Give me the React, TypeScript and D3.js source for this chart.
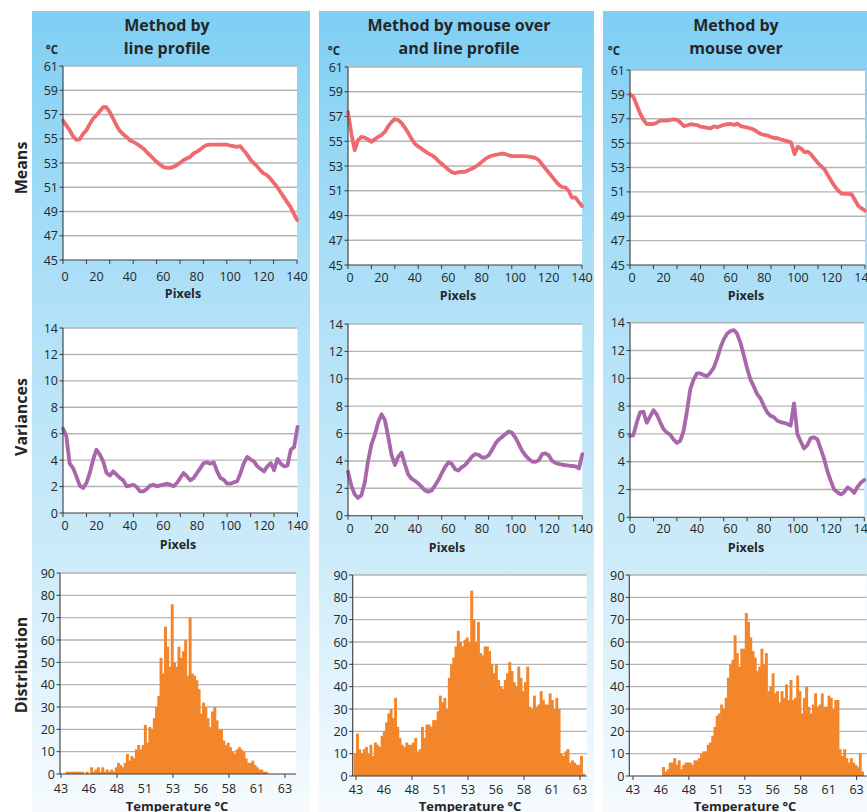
import React from "react";
import * as d3 from "d3";

// ---------- categories ----------
const pixelPositions = d3.range(0, 141, 2);
const tempBinStarts = d3.range(0, 105).map((i) => +(42.8 + i * 0.2).toFixed(1));
const BIN_WIDTH = 0.2;

// ---------- labels ----------
const methodTitles = [
  ["Method by", "line profile"],
  ["Method by mouse over", "and line profile"],
  ["Method by", "mouse over"],
];
const rowLabels = ["Means", "Variances", "Distribution"];
const meanTicks = [45, 47, 49, 51, 53, 55, 57, 59, 61];
const varianceTicks = [0, 2, 4, 6, 8, 10, 12, 14];
const distributionTicks = [0, 10, 20, 30, 40, 50, 60, 70, 80, 90];
const pixelTickLabels = [0, 20, 40, 60, 80, 100, 120, 140];
const pixelTickMarks = [0, 14, 28, 42, 56, 70, 84, 98, 112, 126, 140];
const tempTickLabels = [43, 45.5, 48, 50.5, 53, 55.5, 58, 60.5, 63];
const tempTickMarks = [43, 48, 53, 58, 63];

// ---------- series: means (°C) at pixels 0,2,...,140 ----------
const meansLineProfile = [
  56.5, 56.1, 55.7, 55.2, 54.9, 54.95, 55.4, 55.7, 56.2, 56.66,
  56.94, 57.27, 57.6, 57.6, 57.2, 56.66, 56.1, 55.65, 55.37, 55.15,
  54.88, 54.74, 54.6, 54.4, 54.2, 53.92, 53.65, 53.37, 53.1, 52.88,
  52.68, 52.6, 52.6, 52.68, 52.82, 53.01, 53.23, 53.37, 53.5, 53.78,
  53.92, 54.1, 54.33, 54.47, 54.52, 54.52, 54.52, 54.52, 54.52, 54.52,
  54.44, 54.39, 54.33, 54.39, 54.06, 53.73, 53.3, 53.0, 52.74, 52.41,
  52.14, 52.0, 51.72, 51.37, 51.04, 50.63, 50.2, 49.8, 49.4, 48.84,
  48.3,
];
const meansMouseAndLine = [
  57.37, 55.62, 54.28, 55.08, 55.35, 55.3, 55.15, 54.95, 55.15, 55.35,
  55.5, 55.75, 56.2, 56.55, 56.8, 56.72, 56.48, 56.1, 55.68, 55.2,
  54.8, 54.58, 54.4, 54.2, 54.02, 53.88, 53.7, 53.4, 53.18, 52.95,
  52.72, 52.52, 52.42, 52.5, 52.53, 52.53, 52.65, 52.78, 52.92, 53.1,
  53.33, 53.55, 53.73, 53.83, 53.9, 53.95, 54.0, 53.97, 53.87, 53.8,
  53.8, 53.8, 53.8, 53.8, 53.76, 53.72, 53.65, 53.5, 53.15, 52.82,
  52.48, 52.15, 51.82, 51.5, 51.3, 51.27, 51.0, 50.45, 50.46, 50.1,
  49.76,
];
const meansMouseOver = [
  59.0, 58.81, 58.13, 57.44, 56.9, 56.57, 56.57, 56.57, 56.68, 56.84,
  56.84, 56.84, 56.9, 56.95, 56.9, 56.7, 56.4, 56.45, 56.55, 56.52,
  56.48, 56.35, 56.32, 56.25, 56.21, 56.38, 56.3, 56.4, 56.5, 56.55,
  56.57, 56.5, 56.6, 56.4, 56.33, 56.28, 56.2, 56.1, 55.9, 55.75,
  55.67, 55.62, 55.5, 55.42, 55.4, 55.3, 55.22, 55.15, 55.05, 54.1,
  54.7, 54.55, 54.25, 54.3, 54.05, 53.7, 53.37, 53.1, 52.82, 52.35,
  51.88, 51.45, 51.12, 50.85, 50.83, 50.83, 50.8, 50.33, 49.84, 49.65,
  49.46,
];

// ---------- series: variances at pixels 0,2,...,140 ----------
const varLineProfile = [
  6.4, 5.8, 3.73, 3.4, 2.77, 2.07, 1.89, 2.27, 3.03, 4.04,
  4.79, 4.41, 3.91, 3.03, 2.83, 3.15, 2.9, 2.65, 2.47, 2.02,
  2.07, 2.14, 1.97, 1.64, 1.64, 1.82, 2.07, 2.14, 2.02, 2.09,
  2.14, 2.22, 2.14, 2.02, 2.27, 2.65, 3.03, 2.77, 2.47, 2.65,
  3.03, 3.4, 3.78, 3.83, 3.73, 3.83, 3.15, 2.65, 2.52, 2.22,
  2.22, 2.32, 2.4, 3.03, 3.78, 4.24, 4.04, 3.91, 3.53, 3.33,
  3.15, 3.53, 3.78, 3.23, 4.09, 3.73, 3.53, 3.58, 4.79, 5.0,
  6.51,
];
const varMouseAndLine = [
  3.21, 2.2, 1.55, 1.3, 1.5, 2.4, 4.0, 5.2, 5.9, 6.8,
  7.4, 7.0, 5.8, 4.45, 3.7, 4.3, 4.6, 3.75, 3.0, 2.7,
  2.55, 2.35, 2.1, 1.85, 1.75, 1.85, 2.2, 2.6, 3.1, 3.55,
  3.9, 3.8, 3.4, 3.3, 3.55, 3.7, 4.0, 4.3, 4.5, 4.45,
  4.25, 4.25, 4.4, 4.8, 5.25, 5.55, 5.75, 5.95, 6.15, 6.05,
  5.7, 5.25, 4.75, 4.4, 4.15, 3.95, 3.94, 4.05, 4.5, 4.55,
  4.4, 4.0, 3.85, 3.78, 3.72, 3.7, 3.65, 3.63, 3.6, 3.45,
  4.5,
];
const varMouseOver = [
  5.85, 5.9, 6.8, 7.55, 7.6, 6.8, 7.24, 7.7, 7.4, 6.85,
  6.35, 6.1, 5.95, 5.6, 5.35, 5.5, 6.2, 7.6, 9.2, 9.9,
  10.35, 10.35, 10.24, 10.15, 10.4, 10.75, 11.4, 12.2, 12.8, 13.2,
  13.4, 13.47, 13.2, 12.55, 11.65, 10.7, 9.9, 9.4, 8.85, 8.55,
  8.0, 7.55, 7.3, 7.2, 6.95, 6.85, 6.8, 6.72, 6.6, 8.2,
  6.0, 5.45, 4.95, 5.2, 5.7, 5.75, 5.6, 4.9, 4.2, 3.3,
  2.6, 2.0, 1.8, 1.65, 1.8, 2.15, 2.0, 1.75, 2.2, 2.5,
  2.69,
];

// ---------- series: distribution counts per 0.2 °C bin from 42.8 ----------
const distLineProfile = [
  0, 0, 0, 1, 1, 1, 1, 1, 1, 1,
  1, 0, 1, 0, 3, 1, 2, 3, 1, 3,
  1, 2, 1, 2, 1, 3, 5, 4, 3, 5,
  9, 6, 8, 7, 11, 13, 11, 13, 22, 14,
  21, 20, 25, 30, 35, 52, 45, 66, 57, 48,
  76, 50, 48, 57, 52, 55, 60, 44, 70, 45,
  44, 42, 38, 27, 32, 30, 25, 21, 28, 30,
  24, 20, 20, 15, 13, 14, 12, 10, 9, 11,
  12, 11, 10, 7, 5, 5, 6, 4, 3, 2,
  2, 1, 1, 0, 0, 0, 0, 0, 0, 0,
  0, 0, 0, 0, 0,
];
const distMouseAndLine = [
  10, 19, 12, 10, 12, 13, 10, 14, 9, 15,
  14, 13, 18, 20, 24, 28, 30, 26, 35, 22,
  17, 14, 13, 15, 14, 14, 15, 17, 11, 12,
  22, 17, 23, 23, 22, 25, 25, 29, 36, 33,
  35, 30, 44, 50, 53, 58, 65, 60, 58, 61,
  62, 60, 83, 70, 60, 69, 55, 54, 58, 58,
  56, 50, 46, 50, 43, 40, 39, 43, 46, 51,
  47, 42, 40, 49, 44, 38, 42, 49, 31, 30,
  36, 31, 32, 38, 34, 32, 32, 37, 34, 30,
  35, 30, 10, 9, 11, 12, 6, 7, 6, 5,
  5, 9, 1, 0, 0,
];
const distMouseOver = [
  0, 0, 0, 0, 0, 0, 0, 0, 0, 0,
  0, 0, 0, 0, 4, 2, 3, 6, 6, 8,
  5, 7, 3, 5, 6, 6, 6, 5, 7, 7,
  8, 10, 11, 11, 14, 15, 18, 22, 27, 28,
  32, 30, 35, 44, 50, 52, 63, 55, 49, 57,
  57, 73, 69, 62, 56, 53, 47, 49, 57, 50,
  55, 38, 40, 46, 37, 38, 33, 38, 35, 41,
  34, 43, 34, 35, 45, 38, 28, 35, 40, 31,
  28, 32, 37, 31, 32, 37, 31, 31, 36, 35,
  30, 34, 34, 12, 9, 12, 8, 6, 8, 6,
  5, 4, 10, 2, 0,
];

const meansSeries = [meansLineProfile, meansMouseAndLine, meansMouseOver];
const varSeries = [varLineProfile, varMouseAndLine, varMouseOver];
const distSeries = [distLineProfile, distMouseAndLine, distMouseOver];

// ---------- layout ----------
type Box = { l: number; t: number; r: number; b: number };
const FONT = "'Open Sans', 'Noto Sans', sans-serif";
const TEXT = "#262626";
const GRID = "#b4b4b4";
const AXIS = "#3a3a3a";
const MEAN_COLOR = "#ef6a6e";
const VAR_COLOR = "#a866ab";
const BAR_COLOR = "#f3862a";

const columns = [
  {
    px: 32, pw: 278, titleX: 167, titleY: [31, 54], deg: [52, 54],
    means: { l: 63, t: 66, r: 297, b: 260 }, meansLab: 276, meansName: [183, 293],
    vars: { l: 63, t: 328, r: 297.5, b: 513 }, varsLab: 525, varsName: [178, 544],
    dist: { l: 60, t: 573, r: 296, b: 774 }, x43: 61, k: 11.2, distLab: 788, distName: [177, 806],
  },
  {
    px: 319, pw: 275, titleX: 459, titleY: [31, 54], deg: [334, 55],
    means: { l: 348, t: 67, r: 582, b: 265 }, meansLab: 277, meansName: [458, 295],
    vars: { l: 348, t: 324, r: 582.3, b: 515.7 }, varsLab: 528, varsName: [447, 547],
    dist: { l: 352.7, t: 575, r: 586.7, b: 776 }, x43: 356, k: 11.2, distLab: 789, distName: [470, 806],
  },
  {
    px: 603, pw: 264, titleX: 736, titleY: [31, 54], deg: [614, 55],
    means: { l: 630, t: 70, r: 865, b: 265 }, meansLab: 277, meansName: [746, 295],
    vars: { l: 630, t: 322.7, r: 864.3, b: 517.3 }, varsLab: 528, varsName: [746, 547],
    dist: { l: 629.3, t: 575, r: 866.7, b: 776 }, x43: 633, k: 11.18, distLab: 789, distName: [745, 806],
  },
];

function YAxisAndGrid({ box, y, ticks }: { box: Box; y: d3.ScaleLinear<number, number>; ticks: number[] }) {
  return (
    <g>
      <rect x={box.l} y={box.t} width={box.r - box.l} height={box.b - box.t} fill="#ffffff" />
      {ticks.map((v, i) =>
        i === 0 ? null : (
          <line key={"g" + v} x1={box.l} x2={box.r} y1={y(v)} y2={y(v)} stroke={GRID} strokeWidth={1.4} />
        )
      )}
      {ticks.map((v) => (
        <g key={"t" + v}>
          <line x1={box.l - 3.5} x2={box.l} y1={y(v)} y2={y(v)} stroke={AXIS} strokeWidth={1} />
          <text x={box.l - 5} y={y(v)} dy="0.36em" textAnchor="end" fontSize={12.5} fill={TEXT} fontFamily={FONT}>
            {v}
          </text>
        </g>
      ))}
    </g>
  );
}

function LineChart({ box, domain, ticks, values, color, labY, name }: any) {
  const x = d3.scaleLinear().domain([0, 140]).range([box.l, box.r]);
  const y = d3.scaleLinear().domain(domain).range([box.b, box.t]);
  const line = d3
    .line<number>()
    .x((_, i) => x(pixelPositions[i]))
    .y((d) => y(d))
    .curve(d3.curveLinear);
  return (
    <g>
      <YAxisAndGrid box={box} y={y} ticks={ticks} />
      <path d={line(values) || ""} fill="none" stroke={color} strokeWidth={3.8} strokeLinejoin="round" strokeLinecap="round" />
      <line x1={box.l} x2={box.l} y1={box.t} y2={box.b} stroke={AXIS} strokeWidth={1.1} />
      <line x1={box.l} x2={box.r} y1={box.b} y2={box.b} stroke={AXIS} strokeWidth={1.1} />
      {pixelTickMarks.map((v) => (
        <line key={"m" + v} x1={x(v)} x2={x(v)} y1={box.b} y2={box.b + 4} stroke={AXIS} strokeWidth={1} />
      ))}
      {pixelTickLabels.map((v) => (
        <text key={"l" + v} x={x(v) + (v === 0 ? 2 : 0)} y={labY} dy="0.36em" textAnchor="middle" fontSize={12.5} fill={TEXT} fontFamily={FONT}>
          {v}
        </text>
      ))}
      <text x={name[0]} y={name[1]} dy="0.36em" textAnchor="middle" fontSize={12.5} fontWeight={700} fill={TEXT} fontFamily={FONT}>
        Pixels
      </text>
    </g>
  );
}

function Histogram({ box, x43, k, values, labY, name, clipId }: any) {
  const x = d3
    .scaleLinear()
    .domain([43 - (x43 - box.l) / k, 43 + (box.r - x43) / k])
    .range([box.l, box.r]);
  const y = d3.scaleLinear().domain([0, 90]).range([box.b, box.t]);
  return (
    <g>
      <defs>
        <clipPath id={clipId}>
          <rect x={box.l} y={box.t} width={box.r - box.l} height={box.b - box.t} />
        </clipPath>
      </defs>
      <YAxisAndGrid box={box} y={y} ticks={distributionTicks} />
      <g clipPath={`url(#${clipId})`}>
        {values.map((v: number, i: number) =>
          v > 0 ? (
            <rect
              key={i}
              x={x(tempBinStarts[i])}
              y={y(v)}
              width={x(tempBinStarts[i] + BIN_WIDTH) - x(tempBinStarts[i]) + 0.7}
              height={box.b - y(v)}
              fill={BAR_COLOR}
            />
          ) : null
        )}
      </g>
      <line x1={box.l} x2={box.l} y1={box.t} y2={box.b} stroke={AXIS} strokeWidth={1.1} />
      <line x1={box.l} x2={box.r} y1={box.b} y2={box.b} stroke={AXIS} strokeWidth={1.1} />
      {tempTickMarks.map((v) => (
        <line key={"m" + v} x1={x(v)} x2={x(v)} y1={box.b} y2={box.b + 4} stroke={AXIS} strokeWidth={1} />
      ))}
      {tempTickLabels.map((v) => (
        <text key={"l" + v} x={x(v)} y={labY} dy="0.36em" textAnchor="middle" fontSize={12.5} fill={TEXT} fontFamily={FONT}>
          {Math.round(v)}
        </text>
      ))}
      <text x={name[0]} y={name[1]} dy="0.36em" textAnchor="middle" fontSize={13} fontWeight={700} fill={TEXT} fontFamily={FONT}>
        Temperature °C
      </text>
    </g>
  );
}

export default function App() {
  const rowY = [168, 417, 665];
  return (
    <div style={{ position: "absolute", left: 0, top: 0 }}>
      <svg width={867} height={812} style={{ display: "block" }}>
        <defs>
          <linearGradient id="panelGrad" x1="0" y1="0" x2="0" y2="1">
            <stop offset="0" stopColor="#7ecff4" />
            <stop offset="0.33" stopColor="#acdff7" />
            <stop offset="0.68" stopColor="#cdebf9" />
            <stop offset="1" stopColor="#f6fbfe" />
          </linearGradient>
        </defs>
        <rect x={0} y={0} width={867} height={812} fill="#ffffff" />
        {columns.map((c, i) => (
          <rect key={"p" + i} x={c.px} y={11} width={c.pw} height={801} fill="url(#panelGrad)" />
        ))}
        {rowLabels.map((t, i) => (
          <text
            key={t}
            transform={`translate(21,${rowY[i]}) rotate(-90)`}
            dy="0.36em"
            textAnchor="middle"
            fontSize={16}
            fontWeight={700}
            fill={TEXT}
            fontFamily={FONT}
          >
            {t}
          </text>
        ))}
        {columns.map((c, ci) => (
          <g key={"c" + ci}>
            {methodTitles[ci].map((t, li) => (
              <text key={li} x={c.titleX} y={c.titleY[li]} textAnchor="middle" fontSize={16} fontWeight={700} fill={TEXT} fontFamily={FONT}>
                {t}
              </text>
            ))}
            <text x={c.deg[0]} y={c.deg[1]} textAnchor="middle" fontSize={11.5} fontWeight={700} fill={TEXT} fontFamily={FONT}>
              °C
            </text>
            <LineChart box={c.means} domain={[45, 61]} ticks={meanTicks} values={meansSeries[ci]} color={MEAN_COLOR} labY={c.meansLab} name={c.meansName} />
            <LineChart box={c.vars} domain={[0, 14]} ticks={varianceTicks} values={varSeries[ci]} color={VAR_COLOR} labY={c.varsLab} name={c.varsName} />
            <Histogram box={c.dist} x43={c.x43} k={c.k} values={distSeries[ci]} labY={c.distLab} name={c.distName} clipId={"clip" + ci} />
          </g>
        ))}
      </svg>
    </div>
  );
}
